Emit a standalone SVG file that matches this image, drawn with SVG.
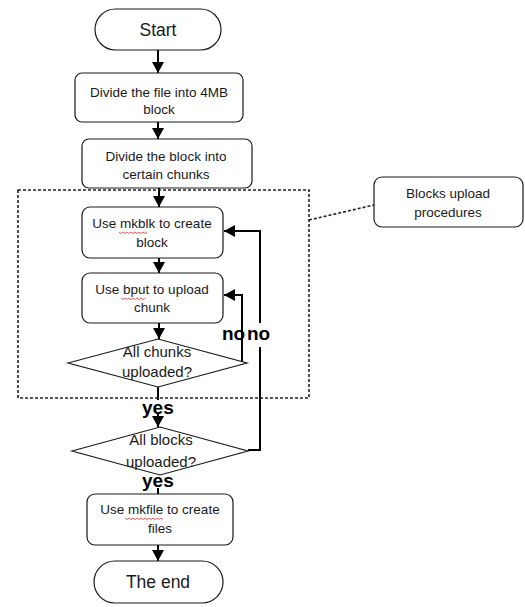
<svg xmlns="http://www.w3.org/2000/svg" width="525" height="607" viewBox="0 0 525 607">
<style>
.box{fill:#fff;stroke:#1a1a1a;stroke-width:1.2}
.t{font-family:"Liberation Sans",Arial,sans-serif;font-size:13.5px;fill:#1a1a1a;text-anchor:middle}
.d{font-family:"Liberation Sans",Arial,sans-serif;font-size:15px;fill:#1a1a1a;text-anchor:middle}
.big{font-family:"Liberation Sans",Arial,sans-serif;font-size:17.5px;fill:#1a1a1a;text-anchor:middle}
.lbl{font-family:"Liberation Sans",Arial,sans-serif;font-size:19px;fill:#000;font-weight:bold}
.ln{fill:none;stroke:#000;stroke-width:2}
.dash{fill:none;stroke:#222;stroke-width:1.6;stroke-dasharray:3 2}
.wave{fill:none;stroke:#e03030;stroke-width:0.8}
</style>
<defs>
<marker id="ah" markerUnits="userSpaceOnUse" markerWidth="12" markerHeight="12" refX="11" refY="6" orient="auto">
<path d="M0,0 L11,6 L0,12 Z" fill="#000"/>
</marker>
</defs>
<g id="connectors">
<line class="ln" x1="158" y1="50" x2="158" y2="73" marker-end="url(#ah)"/>
<line class="ln" x1="158" y1="122" x2="158" y2="139" marker-end="url(#ah)"/>
<line class="ln" x1="159" y1="188" x2="159" y2="207" marker-end="url(#ah)"/>
<line class="ln" x1="159" y1="258" x2="159" y2="273" marker-end="url(#ah)"/>
<line class="ln" x1="159" y1="323" x2="159" y2="339" marker-end="url(#ah)"/>
<line class="ln" x1="158" y1="387" x2="158" y2="400"/>
<line class="ln" x1="158" y1="414" x2="158" y2="427" marker-end="url(#ah)"/>
<line class="ln" x1="158" y1="488" x2="158" y2="494"/>
<line class="ln" x1="158" y1="545" x2="158" y2="561" marker-end="url(#ah)"/>
<polyline class="ln" points="244,363 242,363 242,295 224,295" marker-end="url(#ah)"/>
<polyline class="ln" points="248,450 260,450 260,347"/>
<polyline class="ln" points="260,323 260,231 224,231" marker-end="url(#ah)"/>
<rect class="dash" x="18" y="190" width="291" height="208"/>
<line class="dash" x1="309" y1="220" x2="374" y2="205"/>
</g>
<g id="start">
<rect class="box" x="95" y="9" width="126" height="41" rx="20.5"/>
<text class="big" x="158" y="36">Start</text>
</g>
<g id="divide-file">
<rect class="box" x="75" y="73" width="168" height="49" rx="7"/>
<text class="t" x="159" y="97">Divide the file into 4MB</text>
<text class="t" x="159" y="114">block</text>
</g>
<g id="divide-block">
<rect class="box" x="82" y="139" width="170" height="49" rx="7"/>
<text class="t" x="166" y="161">Divide the block into</text>
<text class="t" x="166" y="179">certain chunks</text>
</g>
<g id="mkblk">
<rect class="box" x="82" y="207" width="141" height="51" rx="8"/>
<text class="t" x="152" y="228">Use mkblk to create</text>
<text class="t" x="152" y="247">block</text>
<path class="wave" d="M119,232 l2,1.5 l2,-1.5 l2,1.5 l2,-1.5 l2,1.5 l2,-1.5 l2,1.5 l2,-1.5 l2,1.5 l2,-1.5 l2,1.5 l2,-1.5 l2,1.5 l2,-1.5"/>
</g>
<g id="bput">
<rect class="box" x="82" y="273" width="141" height="50" rx="8"/>
<text class="t" x="152" y="294">Use bput to upload</text>
<text class="t" x="152" y="312">chunk</text>
<path class="wave" d="M121,298 l2,1.5 l2,-1.5 l2,1.5 l2,-1.5 l2,1.5 l2,-1.5 l2,1.5 l2,-1.5 l2,1.5 l2,-1.5 l2,1.5 l2,-1.5"/>
</g>
<g id="all-chunks">
<polygon class="box" points="68,363 158,339 247,363 158,387" fill="none"/>
<text class="d" x="157" y="357">All chunks</text>
<text class="d" x="157" y="377">uploaded?</text>
</g>
<g id="all-blocks">
<polygon class="box" points="72,451 160,427 248,451 160,475" fill="none"/>
<text class="d" x="161" y="445">All blocks</text>
<text class="d" x="161" y="467">uploaded?</text>
</g>
<g id="mkfile">
<rect class="box" x="87" y="494" width="146" height="51" rx="8"/>
<text class="t" x="160" y="514">Use mkfile to create</text>
<text class="t" x="160" y="533">files</text>
<path class="wave" d="M125,518 l2,1.5 l2,-1.5 l2,1.5 l2,-1.5 l2,1.5 l2,-1.5 l2,1.5 l2,-1.5 l2,1.5 l2,-1.5 l2,1.5 l2,-1.5 l2,1.5 l2,-1.5 l2,1.5 l2,-1.5 l2,1.5 l2,-1.5 l2,1.5"/>
</g>
<g id="the-end">
<rect class="box" x="94" y="561" width="129" height="42" rx="21"/>
<text class="big" x="158" y="588">The end</text>
</g>
<g id="blocks-upload">
<rect class="box" x="374" y="177" width="149" height="50" rx="8"/>
<text class="t" x="448" y="198">Blocks upload</text>
<text class="t" x="448" y="217">procedures</text>
</g>
<g id="labels">
<text class="lbl" x="222" y="340">no</text>
<text class="lbl" x="247" y="340">no</text>
<text class="lbl" x="142" y="414">yes</text>
<text class="lbl" x="142" y="487">yes</text>
</g>
</svg>
